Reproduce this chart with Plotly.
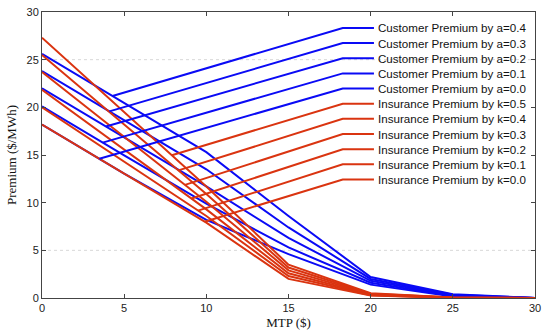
import numpy as np
import plotly.graph_objects as go

# ---- data ----
mtp = [0, 5, 10, 15, 20, 25, 30]

cust_labels = ["Customer Premium by a=0.4", "Customer Premium by a=0.3", "Customer Premium by a=0.2",
               "Customer Premium by a=0.1", "Customer Premium by a=0.0"]
cust_a04 = [25.6, 20.45, 15.3, 8.6, 2.2, 0.40, 0.0]
cust_a03 = [23.8, 18.65, 13.5, 7.4, 2.0, 0.33, 0.0]
cust_a02 = [22.0, 16.85, 11.7, 6.3, 1.8, 0.27, 0.0]
cust_a01 = [20.1, 14.95, 9.9, 5.3, 1.6, 0.21, 0.0]
cust_a00 = [18.2, 13.05, 8.2, 4.6, 1.4, 0.15, 0.0]
cust_series = [cust_a04, cust_a03, cust_a02, cust_a01, cust_a00]
cust_label_x = [4.29, 4.1, 3.89, 3.69, 3.49]

ins_labels = ["Insurance Premium by k=0.5", "Insurance Premium by k=0.4", "Insurance Premium by k=0.3",
              "Insurance Premium by k=0.2", "Insurance Premium by k=0.1", "Insurance Premium by k=0.0"]
ins_k05 = [27.3, 19.5, 11.7, 3.5, 0.50, 0.05, 0.0]
ins_k04 = [25.5, 18.2, 10.9, 3.2, 0.45, 0.05, 0.0]
ins_k03 = [23.7, 16.9, 10.1, 2.9, 0.40, 0.04, 0.0]
ins_k02 = [21.85, 15.6, 9.3, 2.6, 0.35, 0.03, 0.0]
ins_k01 = [20.0, 14.3, 8.6, 2.3, 0.30, 0.02, 0.0]
ins_k00 = [18.2, 13.05, 7.9, 2.0, 0.25, 0.02, 0.0]
ins_series = [ins_k05, ins_k04, ins_k03, ins_k02, ins_k01, ins_k00]
ins_label_x = [7.9, 8.3, 8.7, 9.1, 9.5, 9.9]

x_ticks = [0, 5, 10, 15, 20, 25, 30]
y_ticks = [0, 5, 10, 15, 20, 25, 30]

BLUE = "#0A0AF5"
RED = "#DA3410"
LW = 2

fig = go.Figure()

for ys in cust_series:
    fig.add_trace(go.Scatter(x=mtp, y=ys, mode="lines", line=dict(color=BLUE, width=LW),
                             showlegend=False, hoverinfo="skip"))
for ys in ins_series:
    fig.add_trace(go.Scatter(x=mtp, y=ys, mode="lines", line=dict(color=RED, width=LW),
                             showlegend=False, hoverinfo="skip"))

# ---- hand-made legend with leader lines ----
leg_x0, leg_x1, txt_x = 18.3, 20.2, 20.3
row_top, row_step = 28.33, 1.59
labels = cust_labels + ins_labels
colors = [BLUE] * len(cust_labels) + [RED] * len(ins_labels)
starts_x = cust_label_x + ins_label_x
series = cust_series + ins_series
for i, (lab, col, sx, ys) in enumerate(zip(labels, colors, starts_x, series)):
    ry = row_top - i * row_step
    sy = float(np.interp(sx, mtp, ys))
    fig.add_trace(go.Scatter(x=[sx, leg_x0, leg_x1], y=[sy, ry, ry], mode="lines",
                             line=dict(color=col, width=LW), showlegend=False, hoverinfo="skip"))
    fig.add_annotation(x=txt_x, y=ry, text=lab, showarrow=False, xanchor="left", yanchor="middle",
                       font=dict(family="Liberation Sans, Arial", size=11.6, color="#111111"))

# dotted grid lines as in reference
for gy in [5, 25]:
    fig.add_shape(type="line", x0=0, x1=30, y0=gy, y1=gy, xref="x", yref="y",
                  line=dict(color="#D8D8D8", width=1, dash="dot"), layer="below")

axis_common = dict(showline=True, linecolor="#444444", linewidth=1, mirror="ticks",
                   ticks="inside", ticklen=4, tickcolor="#444444", showgrid=False, zeroline=False,
                   ticklabeloverflow="allow",
                   tickfont=dict(family="Liberation Sans, Arial", size=11, color="#222222"))

fig.update_layout(
    width=546, height=332,
    margin=dict(l=42, r=5, t=12, b=30),
    paper_bgcolor="white", plot_bgcolor="white",
    xaxis=dict(range=[0, 30], tickvals=x_ticks, ticktext=[str(v) for v in x_ticks],
               title=dict(text="MTP ($)", standoff=4,
                          font=dict(family="Liberation Serif, Times New Roman", size=13, color="#111111")),
               **axis_common),
    yaxis=dict(range=[0, 30], tickvals=y_ticks, ticktext=[str(v) for v in y_ticks],
               title=dict(text="Premium ($/MWh)", standoff=6,
                          font=dict(family="Liberation Serif, Times New Roman", size=13, color="#111111")),
               **axis_common),
    showlegend=False,
)

fig.write_html("out.html")
